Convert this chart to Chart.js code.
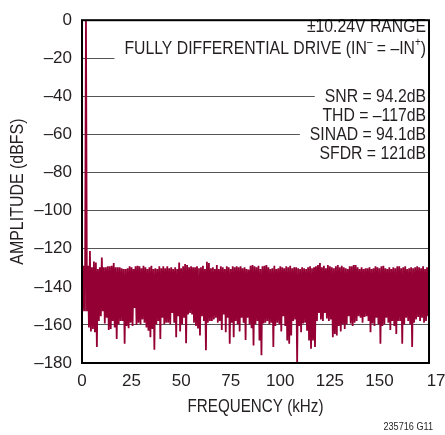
<!DOCTYPE html>
<html>
<head>
<meta charset="utf-8">
<script src="https://cdn.jsdelivr.net/npm/chart.js@4/dist/chart.umd.min.js"></script>
<style>
  html, body { margin: 0; padding: 0; background: #fff; overflow: hidden; }
  #wrap { width: 463px; height: 435px; }
</style>
</head>
<body>
<div id="wrap"><canvas id="fft"></canvas></div>
<script>
// one bin per kHz: top of the trace and bottom of the trace in that bin (dBFS)
const topDb = [
  -128.9, -128.9, 0, -128.9, -121.2, -129.7, -126.7, -127.2, -130.6, -129.7,
  -124.6, -129.7, -129.7, -129.2, -129.2, -128.9, -127.5, -129.7, -129.7, -129.7,
  -130.3, -130.6, -130.6, -130.3, -129.2, -129.7, -130.6, -129.2, -128.9, -129.2,
  -130.3, -128.9, -129.7, -130.6, -129.7, -128.9, -130.6, -130.3, -130.6, -129.2,
  -130.3, -129.2, -130.3, -129.2,
  -130.3, -129.7, -130.6, -129.7, -130.6, -127.2, -130.3, -129.2, -128.0, -128.5,
  -129.7, -129.2, -129.7, -129.7, -129.2, -130.3, -129.7, -128.9, -130.6, -126.8,
  -127.5, -130.3, -129.7, -130.6, -128.5, -130.6, -129.2, -129.7, -130.6, -129.2,
  -129.7, -130.6, -129.2, -129.7, -129.2, -129.7, -129.2, -130.3, -129.7, -130.6,
  -130.9, -128.9, -128.5, -129.2,
  -129.7, -128.9, -130.6, -129.2, -128.9, -128.5, -129.7, -130.6, -130.3, -128.9,
  -130.6, -130.3, -129.2, -129.7, -130.3, -129.2, -129.7, -128.9, -130.3, -129.7,
  -129.7, -130.3, -130.6, -129.7, -130.3, -130.6, -129.7, -129.2, -130.3, -129.7,
  -129.2, -128.5, -127.5, -129.7, -128.9, -130.3, -128.5, -129.2, -129.7, -130.3,
  -129.2, -128.5, -129.7, -128.9,
  -129.7, -130.3, -130.6, -129.2, -129.2, -128.5, -128.5, -129.7, -130.6, -129.7,
  -130.6, -130.3, -130.3, -129.7, -130.6, -130.3, -129.2, -129.7, -130.3, -129.2,
  -128.9, -130.3, -130.6, -129.7, -130.6, -129.7, -130.3, -129.2, -129.2, -130.3,
  -129.7, -129.2, -130.6, -130.3, -129.7, -130.3, -129.7, -129.2, -129.7, -130.3,
  -129.2, -130.6, -129.7, -130.9
];
const bottomDb = [
  -152.8, -152.8, -152.8, -161.4, -163.4, -162.2, -163.9, -171.6, -157.9, -155.4,
  -152.8, -159.3, -156.2, -162.7, -162.2, -157.9, -161.4, -167.4, -159.7, -157.9,
  -157.9, -169.9, -160.5, -161.7, -158.8, -160.5, -151.1, -160.0, -158.8, -159.7,
  -157.1, -158.8, -161.4, -163.1, -166.5, -162.2, -173.0, -159.7, -157.9, -167.4,
  -156.2, -159.7, -158.8, -158.8,
  -159.7, -153.7, -158.8, -166.5, -155.4, -163.4, -159.7, -156.2, -169.6, -154.5,
  -153.7, -154.5, -158.8, -160.5, -161.4, -165.6, -155.4, -157.9, -173.3, -158.8,
  -157.9, -157.9, -157.1, -156.2, -158.8, -157.9, -162.7, -154.5, -163.9, -156.2,
  -169.9, -158.8, -166.5, -157.9, -159.7, -163.4, -156.2, -158.8, -167.9, -156.2,
  -159.7, -161.7, -170.8, -159.7,
  -157.9, -168.2, -175.9, -159.3, -158.8, -157.9, -159.7, -158.8, -171.6, -160.5,
  -158.8, -159.7, -163.4, -155.4, -160.5, -168.2, -169.9, -165.6, -157.9, -157.1,
  -180.0, -160.5, -163.9, -159.3, -158.8, -163.1, -168.2, -172.5, -168.2, -171.6,
  -157.9, -153.7, -157.1, -157.9, -153.7, -156.6, -157.9, -157.1, -166.5, -164.8,
  -165.6, -160.5, -163.4, -159.7,
  -162.2, -159.7, -155.4, -159.3, -160.5, -158.8, -157.9, -155.4, -156.2, -158.8,
  -155.9, -155.4, -157.9, -163.9, -159.3, -160.5, -156.2, -159.7, -169.9, -160.5,
  -159.7, -156.2, -158.8, -162.7, -157.9, -160.5, -164.8, -157.9, -157.9, -169.9,
  -159.7, -156.2, -157.9, -159.7, -171.6, -158.8, -157.1, -155.9, -157.9, -156.2,
  -158.8, -157.9, -155.4, -157.9
];
const xTicks = [0, 25, 50, 75, 100, 125, 150, 175];
const yTicks = [0, -20, -40, -60, -80, -100, -120, -140, -160, -180];
const xTitle = 'FREQUENCY (kHz)';
const yTitle = 'AMPLITUDE (dBFS)';
const notes = [
  '±10.24V RANGE',
  'FULLY DIFFERENTIAL DRIVE (IN^– = –IN^+)',
  'SNR = 94.2dB',
  'THD = –117dB',
  'SINAD = 94.1dB',
  'SFDR = 121dB'
];
const figNote = '235716 G11';

const FONT = "'Liberation Sans', Arial, sans-serif";
const INK = '#231f20';
const RED = '#940033';

// the trace alternates between the top and the bottom of each bin
const trace = [];
topDb.forEach((t, i) => {
  trace.push({ x: i, y: t });
  trace.push({ x: i + 0.5, y: bottomDb[i] });
});

function runsOf(s) {
  const runs = [];
  s.split('^').forEach((part, k) => {
    if (k === 0) { if (part) runs.push({ t: part, sup: false }); return; }
    runs.push({ t: part[0], sup: true });
    if (part.length > 1) runs.push({ t: part.slice(1), sup: false });
  });
  return runs;
}

// narrow lettering: draw squeezed horizontally
function narrowText(ctx, text, x, y, size, sx, align, rot) {
  ctx.save();
  ctx.translate(x, y);
  if (rot) ctx.rotate(rot);
  ctx.scale(sx, 1);
  ctx.font = size + 'px ' + FONT;
  ctx.textAlign = align;
  ctx.textBaseline = 'middle';
  ctx.fillStyle = INK;
  ctx.fillText(text, 0, 0);
  ctx.restore();
}

const textPlugin = {
  id: 'texts',
  beforeDatasetsDraw(chart) {
    const ctx = chart.ctx;
    const rowY = [27, 49, 97, 116, 135, 154];
    const right = 426;
    const sx = 0.83;
    ctx.save();
    ctx.textBaseline = 'middle';
    notes.forEach((line, n) => {
      const runs = runsOf(line);
      let w = 0;
      runs.forEach(r => {
        ctx.font = (r.sup ? '12px ' : '19px ') + FONT;
        r.w = ctx.measureText(r.t).width;
        w += r.w;
      });
      const y = rowY[n];
      ctx.fillStyle = '#fff';
      ctx.fillRect(right - w * sx - 10, y - 10, w * sx + 12, 20);
      ctx.save();
      ctx.translate(right - w * sx, y);
      ctx.scale(sx, 1);
      ctx.fillStyle = INK;
      let x = 0;
      runs.forEach(r => {
        ctx.font = (r.sup ? '12px ' : '19px ') + FONT;
        ctx.fillText(r.t, x, r.sup ? -6 : 0);
        x += r.w;
      });
      ctx.restore();
    });
    ctx.restore();
  },
  afterDraw(chart) {
    const ctx = chart.ctx;
    const a = chart.chartArea;
    ctx.save();
    ctx.strokeStyle = '#000';
    ctx.lineWidth = 2;
    ctx.strokeRect(a.left, a.top, a.right - a.left, a.bottom - a.top);
    ctx.restore();
    narrowText(ctx, xTitle, (a.left + a.right) / 2, 407, 19, 0.8, 'center', 0);
    narrowText(ctx, yTitle, 18, (a.top + a.bottom) / 2, 19, 0.84, 'center', -Math.PI / 2);
    narrowText(ctx, figNote, 433, 427, 11, 0.83, 'right', 0);
  }
};

new Chart(document.getElementById('fft'), {
  type: 'line',
  data: {
    datasets: [{
      data: trace,
      borderColor: RED,
      borderWidth: 1.8,
      pointRadius: 0,
      tension: 0,
      fill: false
    }]
  },
  options: {
    responsive: true,
    maintainAspectRatio: false,
    animation: false,
    layout: { padding: { left: 0, right: 30, top: 12, bottom: 14 } },
    plugins: { legend: { display: false }, tooltip: { enabled: false } },
    scales: {
      x: {
        type: 'linear',
        min: 0,
        max: 175,
        afterBuildTicks: s => { s.ticks = xTicks.map(v => ({ value: v })); },
        afterFit: s => { s.height = 58; },
        ticks: {
          padding: 8,
          color: INK,
          font: { family: FONT, size: 17 },
          maxRotation: 0,
          autoSkip: false,
          // the last label sits off to the right, as in the printed figure
          callback: v => (v === 175 ? '     175' : String(v))
        },
        grid: { display: false, drawTicks: false },
        border: { display: false }
      },
      y: {
        min: -180,
        max: 0,
        afterBuildTicks: s => { s.ticks = yTicks.map(v => ({ value: v })); },
        afterFit: s => { s.width = 82; },
        ticks: {
          padding: 10,
          color: INK,
          font: { family: FONT, size: 17 },
          autoSkip: false,
          callback: v => (v < 0 ? '–' + Math.abs(v) : String(v))
        },
        grid: { color: '#555', lineWidth: 1, drawTicks: false },
        border: { display: false }
      }
    }
  },
  plugins: [textPlugin]
});
</script>
</body>
</html>
